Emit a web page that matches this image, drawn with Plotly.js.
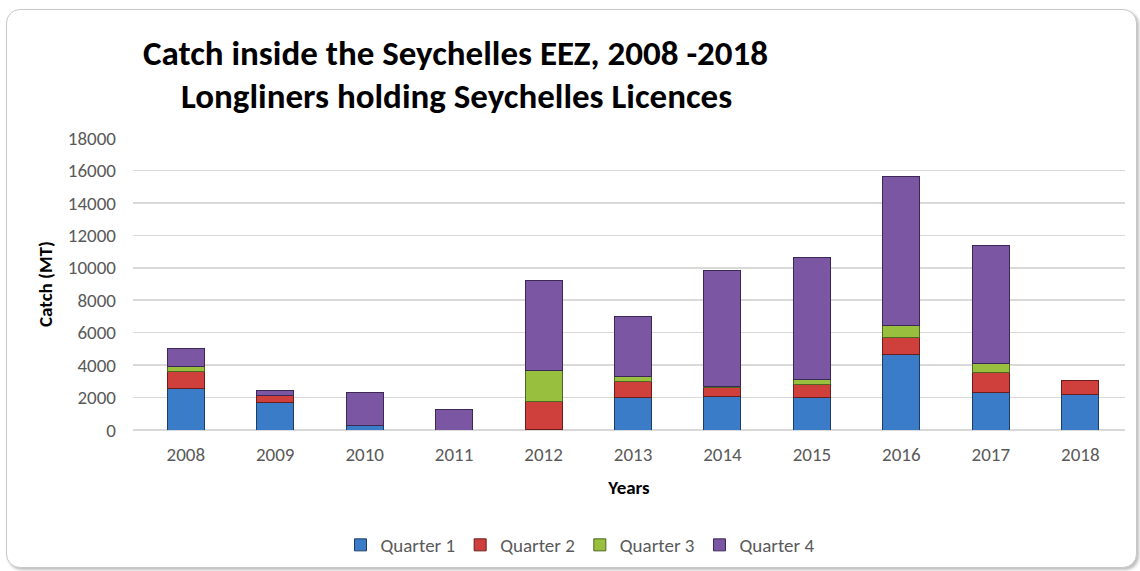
<!DOCTYPE html>
<html>
<head>
<meta charset="utf-8">
<script src="https://cdn.plot.ly/plotly-3.0.1.min.js"></script>
<style>
  html, body { margin: 0; padding: 0; background: #ffffff; }
  #wrap { position: relative; width: 1140px; height: 571px; overflow: hidden; background: #ffffff; }
  #frame { position: absolute; left: 6px; top: 9px; width: 1129px; height: 557px;
           border: 1px solid #c8c8c8; border-radius: 14px; box-shadow: 2px 2px 3px rgba(0,0,0,0.25); background: #fff; }
  #chart { position: absolute; left: 0; top: 0; width: 1140px; height: 571px; }
</style>
</head>
<body>
<div id="wrap">
  <div id="frame"></div>
  <div id="chart"></div>
</div>
<script>
const years = ['2008','2009','2010','2011','2012','2013','2014','2015','2016','2017','2018'];
const quarter1 = [2530, 1680, 300, null, 60, 2000, 2060, 2000, 4640, 2300, 2160];
const quarter2 = [1090, 420, null, null, 1700, 1000, 550, 800, 1070, 1230, 900];
const quarter3 = [280, null, null, null, 1910, 270, 100, 300, 720, 560, null];
const quarter4 = [1150, 350, 2020, 1280, 5570, 3740, 7140, 7550, 9210, 7300, null];
const seriesNames = ['Quarter 1', 'Quarter 2', 'Quarter 3', 'Quarter 4'];
const yTicks = [0, 2000, 4000, 6000, 8000, 10000, 12000, 14000, 16000, 18000];

const colors = ['#3b7cc8', '#cf3f3c', '#98bf3e', '#7a56a3'];
const outline = ['#1d3d66', '#6b1d1c', '#4d6620', '#3c2856'];
const seriesValues = [quarter1, quarter2, quarter3, quarter4];

const FONT = "Carlito, Calibri, 'Liberation Sans', Arial, sans-serif";

const traces = seriesValues.map((vals, i) => ({
  type: 'bar',
  name: seriesNames[i],
  x: years,
  y: vals,
  marker: { color: colors[i], line: { color: outline[i], width: 1 } },
  hoverinfo: 'x+y+name'
}));

const layout = {
  width: 1140,
  height: 571,
  barmode: 'stack',
  bargap: 0.586,
  paper_bgcolor: 'rgba(0,0,0,0)',
  plot_bgcolor: 'rgba(0,0,0,0)',
  margin: { l: 133, r: 15, t: 138, b: 141, autoexpand: false },
  font: { family: FONT, color: '#595959', size: 19 },
  showlegend: true,
  legend: {
    orientation: 'h',
    xref: 'container', yref: 'container',
    x: 580 / 1140, xanchor: 'center',
    y: 1 - 545 / 571, yanchor: 'middle',
    font: { family: FONT, size: 19, color: '#595959' },
    itemwidth: 30,
    traceorder: 'normal'
  },
  xaxis: {
    type: 'category',
    automargin: false,
    range: [-0.59, 10.5],
    tickfont: { family: FONT, size: 19, color: '#595959' },
    ticklabelstandoff: 11,
    showgrid: false,
    showline: false,
    ticks: '',
    title: { text: 'Years', font: { family: FONT, size: 19, color: '#000000', weight: 'bold' }, standoff: 15 },
    zeroline: false
  },
  yaxis: {
    automargin: false,
    range: [0, 18000],
    tickvals: yTicks,
    ticktext: yTicks.map(String),
    tickfont: { family: FONT, size: 19, color: '#595959' },
    ticklabelstandoff: 16,
    showgrid: true,
    gridcolor: '#d9d9d9',
    gridwidth: 1.5,
    zeroline: true,
    zerolinecolor: '#d9d9d9',
    zerolinewidth: 1.5,
    ticks: '',
    showline: false,
    title: { text: 'Catch (MT)', font: { family: FONT, size: 19, color: '#000000', weight: 'bold' }, standoff: 10 }
  },
  annotations: [
    { text: '<b>Catch inside the Seychelles EEZ, 2008 -2018</b>', xref: 'paper', yref: 'paper',
      x: (455 - 133) / 992, y: 1.291, xanchor: 'center', yanchor: 'middle', showarrow: false,
      font: { family: FONT, size: 35, color: '#000000' } },
    { text: '<b>Longliners holding Seychelles Licences</b>', xref: 'paper', yref: 'paper',
      x: (456 - 133) / 992, y: 1.144, xanchor: 'center', yanchor: 'middle', showarrow: false,
      font: { family: FONT, size: 35, color: '#000000' } }
  ]
};

Plotly.newPlot('chart', traces, layout, { displayModeBar: false, staticPlot: true });
</script>
</body>
</html>
